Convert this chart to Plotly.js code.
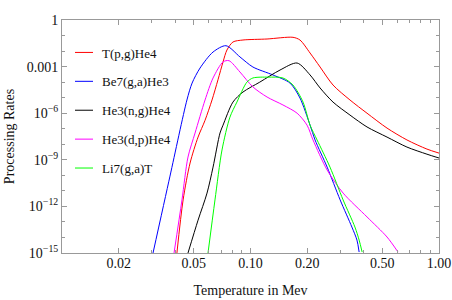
<!DOCTYPE html>
<html>
<head>
<meta charset="utf-8">
<script src="https://cdn.plot.ly/plotly-3.0.1.min.js"></script>
<style>html,body{margin:0;padding:0;background:#fff;}#chart{width:452px;height:300px;}</style>
</head>
<body>
<div id="chart"></div>
<script>
// Series names
const seriesNames = ["T(p,g)He4", "Be7(g,a)He3", "He3(n,g)He4", "He3(d,p)He4", "Li7(g,a)T"];
const seriesColors = ["#ff0000", "#0000ff", "#000000", "#ff00ff", "#00ff00"];

// Temperature (MeV) and processing rates
const tempRed = [0.0407,0.0439,0.0478,0.0527,0.0574,0.0625,0.0672,0.0715,0.0750,0.0807,0.0912,0.1224,0.168,0.183,0.207,0.234,0.274,0.337,0.415,0.530,0.676,0.863,1.0];
const rateRed = [1e-15,2.6e-12,6.2e-10,2.9e-8,3.5e-7,7.1e-6,1.4e-4,2.0e-3,1.17e-2,3.83e-2,5.15e-2,5.98e-2,7.69e-2,5.15e-2,7.5e-3,9.4e-4,6.5e-5,7.1e-6,1.0e-6,1.1e-7,1.9e-8,4.9e-9,2.7e-9];

const tempBlue = [0.0304,0.0374,0.0460,0.0490,0.0540,0.0633,0.0741,0.0879,0.103,0.1315,0.162,0.183,0.207,0.220,0.255,0.299,0.345,0.367,0.377];
const rateBlue = [1e-15,8.9e-11,7.1e-6,8.7e-5,8.1e-4,8.7e-3,2.21e-2,4.2e-3,9.4e-4,2.9e-4,8.7e-5,9.5e-6,1.7e-7,1.9e-8,3.4e-10,2.6e-12,4.7e-14,6.8e-15,1.15e-15];

const tempBlack = [0.0466,0.0527,0.0588,0.0633,0.0689,0.0715,0.0807,0.0912,0.112,0.1434,0.1767,0.207,0.234,0.274,0.337,0.415,0.530,0.676,0.863,1.0];
const rateBlack = [1e-15,1.3e-13,7.2e-12,3.4e-10,5.3e-8,1.7e-7,5.2e-6,2.3e-5,1.0e-4,6.0e-4,1.7e-3,2.9e-4,4.2e-5,5.2e-6,7.6e-7,1.3e-7,2.9e-8,6.6e-9,2.3e-9,1.3e-9];

const tempMagenta = [0.0393,0.0433,0.0466,0.0508,0.0574,0.0633,0.0715,0.0769,0.0879,0.103,0.1224,0.1486,0.1767,0.1995,0.2146,0.255,0.310,0.415,0.530,0.606];
const rateMagenta = [1e-15,2.6e-12,1.5e-9,5.3e-8,7.1e-6,1.85e-4,2.0e-3,2.4e-3,4.5e-4,4.9e-5,1.1e-5,3.4e-6,1.0e-6,1.7e-7,1.9e-8,2.2e-10,7.2e-12,2.1e-13,1.07e-14,1.15e-15];

const tempGreen = [0.0595,0.0648,0.0706,0.0778,0.0847,0.0957,0.103,0.124,0.1486,0.168,0.190,0.207,0.2255,0.264,0.310,0.358,0.377,0.391];
const rateGreen = [1e-15,2.6e-12,4.3e-9,5.6e-7,5.2e-6,1.0e-4,1.85e-4,2.1e-4,1.85e-4,6.5e-5,5.2e-6,1.7e-7,1.9e-8,3.4e-10,2.6e-12,4.7e-14,6.8e-15,1.15e-15];

// Axis ticks
const xTickVals = [0.02, 0.05, 0.1, 0.2, 0.5, 1.0];
const xTickText = ["0.02", "0.05", "0.10", "0.20", "0.50", "1.00"];
const xMinorVals = [0.03,0.04,0.06,0.07,0.08,0.09,0.3,0.4,0.6,0.7,0.8,0.9];
const yTickVals = [1, 1e-3, 1e-6, 1e-9, 1e-12, 1e-15];
const yTickText = ["1", "0.001", "10<sup>−6</sup>", "10<sup>−9</sup>", "10<sup>−12</sup>", "10<sup>−15</sup>"];
const yMinorVals = [1e-1,1e-2,1e-4,1e-5,1e-7,1e-8,1e-10,1e-11,1e-13,1e-14];

const xs = [tempRed, tempBlue, tempBlack, tempMagenta, tempGreen];
const ys = [rateRed, rateBlue, rateBlack, rateMagenta, rateGreen];

const traces = seriesNames.map((n, i) => ({
  x: xs[i], y: ys[i], name: n, type: "scatter", mode: "lines",
  legendgroup: "g" + i,
  line: {color: seriesColors[i], width: 1, shape: "spline", smoothing: 0.8},
  hoverinfo: "skip"
}));

const serif = "'Liberation Serif', serif";
const axisColor = "#999999";
const textColor = "#111111";

const layout = {
  width: 452, height: 300,
  margin: {l: 62, r: 13, t: 20, b: 47},
  paper_bgcolor: "#ffffff", plot_bgcolor: "#ffffff",
  font: {family: serif, size: 14, color: textColor},
  showlegend: true,
  legend: {x: 0.0, y: 0.925, xanchor: "left", yanchor: "top",
           bgcolor: "rgba(255,255,255,0)", borderwidth: 0,
           font: {family: serif, size: 13, color: textColor},
           tracegroupgap: 9},
  xaxis: {
    type: "log", range: [-2, 0],
    tickmode: "array", tickvals: xTickVals, ticktext: xTickText,
    ticks: "inside", ticklen: 5, tickcolor: axisColor, tickwidth: 1,
    minor: {tickmode: "array", tickvals: xMinorVals, ticks: "inside", ticklen: 3, tickcolor: axisColor, showgrid: false},
    showline: true, linecolor: axisColor, linewidth: 1, mirror: "ticks",
    showgrid: false, zeroline: false,
    ticklabelstandoff: -3,
    tickfont: {family: serif, size: 14, color: textColor},
    title: {text: "Temperature in Mev", font: {family: serif, size: 14, color: textColor}, standoff: 15}
  },
  yaxis: {
    type: "log", range: [-15, 0],
    tickmode: "array", tickvals: yTickVals, ticktext: yTickText,
    ticks: "inside", ticklen: 5, tickcolor: axisColor, tickwidth: 1,
    minor: {tickmode: "array", tickvals: yMinorVals, ticks: "inside", ticklen: 3, tickcolor: axisColor, showgrid: false},
    showline: true, linecolor: axisColor, linewidth: 1, mirror: "ticks",
    showgrid: false, zeroline: false,
    tickfont: {family: serif, size: 14, color: textColor},
    title: {text: "Processing Rates", font: {family: serif, size: 14, color: textColor}, standoff: 8}
  }
};

Plotly.newPlot("chart", traces, layout, {staticPlot: true, displayModeBar: false}).then(gd => {
  // shorten legend line samples to match the reference
  gd.querySelectorAll(".legendlines path").forEach(p => p.setAttribute("d", "M13,0h18"));
});
</script>
</body>
</html>
